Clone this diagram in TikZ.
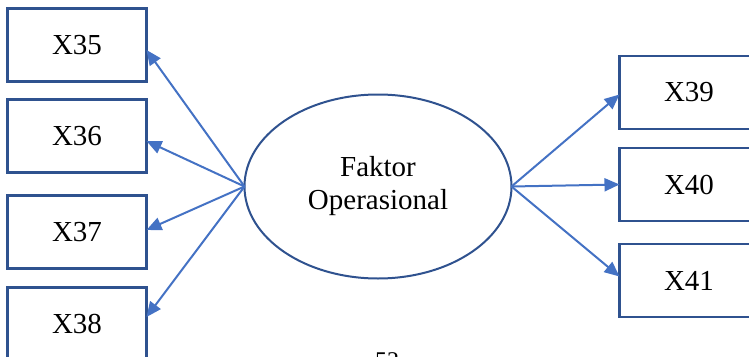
\documentclass[tikz,border=0pt]{standalone}
\usepackage{fontspec}
\setmainfont{Liberation Serif}
\usetikzlibrary{arrows.meta,shapes.geometric}
\definecolor{boxblue}{HTML}{2F528F}
\definecolor{arrowblue}{HTML}{4472C4}
\tikzset{
  indicator/.style={draw=boxblue, line width=2.4pt, minimum width=139pt,
    minimum height=73pt, inner sep=0pt, outer sep=0pt,
    font=\fontsize{29}{34}\selectfont},
  latent/.style={ellipse, draw=boxblue, line width=2pt, minimum width=267pt,
    minimum height=184pt, inner sep=0pt, outer sep=0pt, align=center,
    font=\fontsize{29}{33}\selectfont},
  loading/.style={draw=arrowblue, line width=2pt,
    -{Triangle[length=15pt,width=13pt]}},
}
\begin{document}
\begin{tikzpicture}[x=1pt,y=-1pt]
\useasboundingbox (0,0) rectangle (749,356);
\clip (0,0) rectangle (749,356);
% latent factor
\node[latent] (f) at (378,186.5) {Faktor\\Operasional};
% indicators on the left
\node[indicator] (x35) at (77,45) {X35};
\node[indicator] (x36) at (77,136) {X36};
\node[indicator] (x37) at (77,232) {X37};
\node[indicator] (x38) at (77,324) {X38};
% indicators on the right
\node[indicator] (x39) at (689,92.5) {X39};
\node[indicator] (x40) at (689,184.5) {X40};
\node[indicator] (x41) at (689,280.5) {X41};
% loadings
\draw[loading] (f.west) -- ([yshift=-5pt]x35.east);
\draw[loading] (f.west) -- ([yshift=-5pt]x36.east);
\draw[loading] (f.west) -- ([yshift=2pt]x37.east);
\draw[loading] (f.west) -- ([yshift=7pt]x38.east);
\draw[loading] (f.east) -- ([yshift=-2pt]x39.west);
\draw[loading] (f.east) -- (x40.west);
\draw[loading] (f.east) -- ([yshift=4pt]x41.west);
% page number at the foot
\node[anchor=north, inner sep=0pt, font=\fontsize{24}{28}\selectfont] (pg) at (387,352.5) {52};
\end{tikzpicture}
\end{document}
